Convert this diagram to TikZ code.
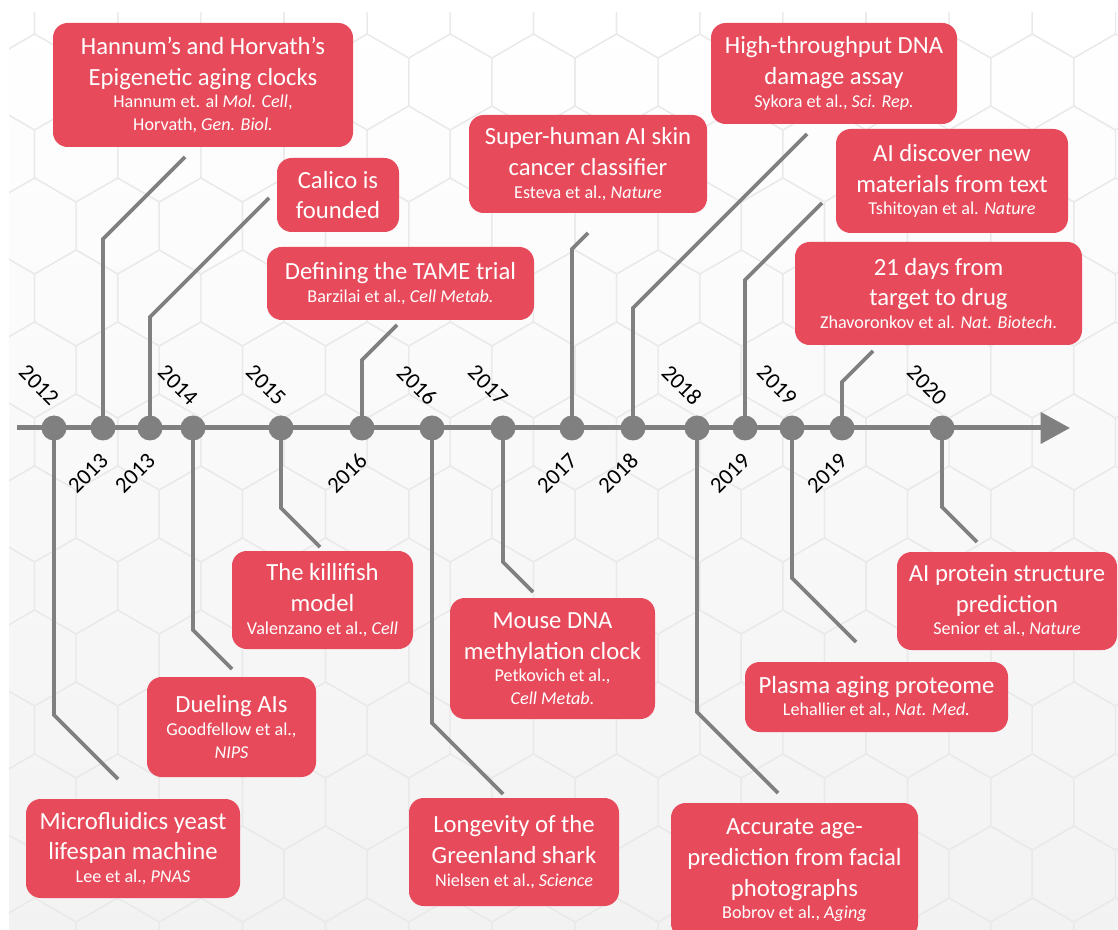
\documentclass[tikz,border=0pt]{standalone}
\usepackage{fontspec}
\setmainfont{Carlito}
\usetikzlibrary{arrows.meta}
\definecolor{boxred}{RGB}{231,74,90}
\definecolor{stemgray}{RGB}{128,128,128}
\definecolor{hexgray}{RGB}{233,233,233}
\newcommand\refline[1]{{\fontsize{13.6}{17}\selectfont #1}}
\tikzset{
  every node/.style={inner sep=0pt},
  event/.style 2 args={
    rectangle,
    rounded corners=11pt,
    fill=boxred,
    text=white,
    align=center,
    font=\fontsize{18.5}{23}\selectfont,
    minimum width=#1*0.75pt,
    minimum height=#2*0.75pt
  },
  yeardot/.style={circle, fill=stemgray, minimum size=18.75pt},
  yearup/.style={rotate=-45, font=\fontsize{17}{17}\selectfont},
  yeardown/.style={rotate=45, font=\fontsize{17}{17}\selectfont},
  stem/.style={draw=stemgray, line width=2.7pt},
  timeaxis/.style={draw=stemgray, line width=3.75pt, -{Triangle[length=22pt,width=23pt]}},
  hexline/.style={draw=hexgray, line width=0.9pt}
}

\begin{document}
\begin{tikzpicture}[x=0.75pt, y=-0.75pt]
  \useasboundingbox (0,0) rectangle (1118,930);
  \fill[top color=white, bottom color=black!5] (9,13) rectangle (1118,930);
  \begin{scope}
    \clip (9,13) rectangle (1118,930);
    \foreach \r in {0,...,13} {
      \foreach \c in {-1,...,13} {
        \pgfmathsetmacro\hx{-7+\c*83.14+mod(\r,2)*41.57}
        \pgfmathsetmacro\hy{10+\r*72}
        \draw[hexline] (\hx,\hy) +(90:48) -- +(30:48) -- +(-30:48)
          -- +(-90:48) -- +(-150:48) -- +(150:48) -- cycle;
      }
    }
  \end{scope}

  \coordinate (axstart) at (17,428);
  \coordinate (axend) at (1070,428);
  \draw[timeaxis] (axstart) -- (axend);

  \node[yeardot] (d2012) at (54,428) {};
  \node[yeardot] (d2013a) at (103,428) {};
  \node[yeardot] (d2013b) at (150,428) {};
  \node[yeardot] (d2014) at (193,428) {};
  \node[yeardot] (d2015) at (281,428) {};
  \node[yeardot] (d2016a) at (362,428) {};
  \node[yeardot] (d2016b) at (432,428) {};
  \node[yeardot] (d2017a) at (503,428) {};
  \node[yeardot] (d2017b) at (572,428) {};
  \node[yeardot] (d2018a) at (633,428) {};
  \node[yeardot] (d2018b) at (697,428) {};
  \node[yeardot] (d2019a) at (745,428) {};
  \node[yeardot] (d2019b) at (792,428) {};
  \node[yeardot] (d2019c) at (842,428) {};
  \node[yeardot] (d2020) at (942,428) {};

  \node[yearup] (y2012) at ([shift={(-15,-43)}]d2012.center) {2012};
  \node[yeardown] (y2013a) at ([shift={(-15,45)}]d2013a.center) {2013};
  \node[yeardown] (y2013b) at ([shift={(-15,45)}]d2013b.center) {2013};
  \node[yearup] (y2014) at ([shift={(-15,-43)}]d2014.center) {2014};
  \node[yearup] (y2015) at ([shift={(-15,-43)}]d2015.center) {2015};
  \node[yeardown] (y2016a) at ([shift={(-15,45)}]d2016a.center) {2016};
  \node[yearup] (y2016b) at ([shift={(-15,-43)}]d2016b.center) {2016};
  \node[yearup] (y2017a) at ([shift={(-15,-43)}]d2017a.center) {2017};
  \node[yeardown] (y2017b) at ([shift={(-15,45)}]d2017b.center) {2017};
  \node[yeardown] (y2018a) at ([shift={(-15,45)}]d2018a.center) {2018};
  \node[yearup] (y2018b) at ([shift={(-15,-43)}]d2018b.center) {2018};
  \node[yeardown] (y2019a) at ([shift={(-15,45)}]d2019a.center) {2019};
  \node[yearup] (y2019b) at ([shift={(-15,-43)}]d2019b.center) {2019};
  \node[yeardown] (y2019c) at ([shift={(-15,45)}]d2019c.center) {2019};
  \node[yearup] (y2020) at ([shift={(-15,-43)}]d2020.center) {2020};

  \draw[stem] (d2013a.center) -- ++(0,-189) -- ++(82,-82);
  \draw[stem] (d2013b.center) -- ++(0,-111) -- ++(119,-119);
  \draw[stem] (d2016a.center) -- ++(0,-68) -- ++(35,-35);
  \draw[stem] (d2017b.center) -- ++(0,-179) -- ++(16,-16);
  \draw[stem] (d2018a.center) -- ++(0,-120) -- ++(174,-174);
  \draw[stem] (d2019a.center) -- ++(0,-148) -- ++(77,-77);
  \draw[stem] (d2019c.center) -- ++(0,-46) -- ++(31,-31);
  \draw[stem] (d2012.center) -- ++(0,287) -- ++(64,64);
  \draw[stem] (d2014.center) -- ++(0,202) -- ++(39,39);
  \draw[stem] (d2015.center) -- ++(0,80) -- ++(39,39);
  \draw[stem] (d2016b.center) -- ++(0,295) -- ++(71,71);
  \draw[stem] (d2017a.center) -- ++(0,134) -- ++(30,30);
  \draw[stem] (d2018b.center) -- ++(0,284) -- ++(81,81);
  \draw[stem] (d2019b.center) -- ++(0,150) -- ++(64,64);
  \draw[stem] (d2020.center) -- ++(0,79) -- ++(35,35);

  \node[event={300}{124}] (hannum) at (203,85)
    {Hannum’s and Horvath’s\\Epigenetic aging clocks\\[-6pt]
     \refline{Hannum et. al \textit{Mol. Cell},}\\[-6pt]
     \refline{Horvath, \textit{Gen. Biol.}}};
  \node[event={122}{74}] (calico) at (338,195)
    {Calico is\\founded};
  \node[event={267}{73}] (tame) at (400.5,283.5)
    {Defining the TAME trial\\[-6pt]
     \refline{Barzilai et al., \textit{Cell Metab.}}};
  \node[event={238}{98}] (skincancer) at (588,164)
    {Super-human AI skin\\cancer classifier\\[-6pt]
     \refline{Esteva et al., \textit{Nature}}};
  \node[event={246}{101}] (dnadamage) at (834,73.5)
    {High-throughput DNA\\damage assay\\[-6pt]
     \refline{Sykora et al., \textit{Sci. Rep.}}};
  \node[event={232}{104}] (materials) at (952,181)
    {AI discover new\\materials from text\\[-6pt]
     \refline{Tshitoyan et al. \textit{Nature}}};
  \node[event={287}{103}] (drug) at (938.5,293.5)
    {21 days from\\target to drug\\[-6pt]
     \refline{Zhavoronkov et al. \textit{Nat. Biotech}.}};

  \node[event={214}{99}] (yeast) at (133,848.5)
    {Microfluidics yeast\\lifespan machine\\[-6pt]
     \refline{Lee et al., \textit{PNAS}}};
  \node[event={169}{100}] (dueling) at (231.5,727)
    {Dueling AIs\\[-6pt]
     \refline{Goodfellow et al.,}\\[-6pt]
     \refline{\textit{NIPS}}};
  \node[event={181}{98}] (killifish) at (322.5,600)
    {The killifish\\model\\[-6pt]
     \refline{Valenzano et al., \textit{Cell}}};
  \node[event={210}{108}] (shark) at (514,852)
    {Longevity of the\\Greenland shark\\[-6pt]
     \refline{Nielsen et al., \textit{Science}}};
  \node[event={205}{121}] (mouse) at (552.5,658.5)
    {Mouse DNA\\methylation clock\\[-6pt]
     \refline{Petkovich et al.,}\\[-6pt]
     \refline{\textit{Cell Metab.}}};
  \node[event={247}{135}] (faces) at (794.5,870.5)
    {Accurate age-\\prediction from facial\\photographs\\[-6pt]
     \refline{Bobrov et al., \textit{Aging}}};
  \node[event={263}{70}] (plasma) at (876.5,697)
    {Plasma aging proteome\\[-6pt]
     \refline{Lehallier et al., \textit{Nat. Med.}}};
  \node[event={220}{98}] (protein) at (1007,601)
    {AI protein structure\\prediction\\[-6pt]
     \refline{Senior et al., \textit{Nature}}};
\end{tikzpicture}
\end{document}
